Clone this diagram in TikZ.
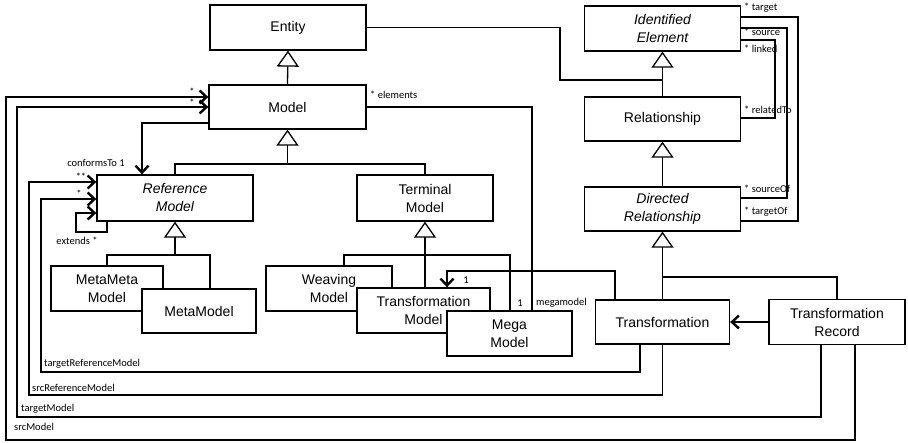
\documentclass[tikz,border=0pt]{standalone}
\usepackage{fontspec}
\setmainfont{Liberation Sans}
\newfontfamily\labfont{Carlito}
\usetikzlibrary{arrows.meta}
\tikzset{
  box/.style={draw, line width=1.3pt, fill=white, inner sep=0pt, align=center,
    font=\fontsize{14}{18}\selectfont},
  conn/.style={line width=1.3pt},
  gen/.style={line width=1.3pt, -{Triangle[length=16pt,width=22pt,fill=white,line width=1.3pt]}},
  assoc/.style={line width=1.3pt, -{Straight Barb[length=7pt,width=13pt,line width=2.4pt]}},
  lab/.style={font=\labfont\fontsize{10.5}{12}\selectfont, inner sep=0pt}
}
\begin{document}
\begin{tikzpicture}[x=1pt,y=-1pt]
\useasboundingbox (0,0) rectangle (908,443);
% boxes
\node[box, minimum width=156pt, minimum height=45pt] (entity) at (288,27.5) {Entity};
\node[box, minimum width=157pt, minimum height=44pt] (model) at (287.5,107) {Model};
\node[box, minimum width=156pt, minimum height=45pt] (ie) at (662.5,28.5) {\itshape Identified\\\itshape Element};
\node[box, minimum width=156pt, minimum height=44pt] (rel) at (662.5,119) {Relationship};
\node[box, minimum width=156pt, minimum height=44pt] (dr) at (662.5,209) {\itshape Directed\\\itshape Relationship};
\node[box, minimum width=156pt, minimum height=46pt] (refm) at (175,198) {\itshape Reference\\\itshape Model};
\node[box, minimum width=136pt, minimum height=46pt] (term) at (425,198) {Terminal\\Model};
\node[box, minimum width=112pt, minimum height=45pt] (mmm) at (107,288.5) {MetaMeta\\Model};
\node[box, minimum width=114pt, minimum height=44pt] (mm) at (199,311) {MetaModel};
\node[box, minimum width=126pt, minimum height=45pt] (weav) at (329,288.5) {Weaving\\Model};
\node[box, minimum width=133pt, minimum height=45pt] (tm) at (423.5,310.5) {Transformation\\Model};
\node[box, minimum width=125pt, minimum height=45pt] (mega) at (509.5,333.5) {Mega\\Model};
\node[box, minimum width=134pt, minimum height=44pt] (tr) at (662.5,322) {Transformation};
\node[box, minimum width=136pt, minimum height=45pt] (trec) at (837,322) {Transformation\\Record};

% coordinates
\coordinate (ebend) at (560,80);
\coordinate (iebus) at (662.5,80);
\coordinate (mbus) at (287.5,164);
\coordinate (rbus) at (175,255);
\coordinate (rb2) at (210,255);
\coordinate (tb1) at (344,255);
\coordinate (tb2) at (510,255);
\coordinate (trbus) at (662.5,277);
\coordinate (cf) at (142,123);
\coordinate (ex1) at (107,232);
\coordinate (ex2) at (76,213);
\coordinate (el) at (532,107);
\coordinate (tt1) at (447,271);
\coordinate (tt2) at (615,271);
\coordinate (s1) at (855,440);
\coordinate (s2) at (6,97);
\coordinate (t1) at (821,417);
\coordinate (t2) at (17,107);
\coordinate (r1) at (662.5,395);
\coordinate (r2) at (29,182);
\coordinate (q1) at (640,372);
\coordinate (q2) at (41,199);
\coordinate (a1) at (798,17);
\coordinate (a2) at (798,221);
\coordinate (b1) at (787,28);
\coordinate (b2) at (787,198);
\coordinate (c1) at (775,40);
\coordinate (c2) at (775,118);

% generalizations
\draw[gen] (model.north) -- (entity.south);
\draw[conn] (entity.east) -- (entity.east -| ebend) -- (ebend) -- (iebus);
\draw[gen] (rel.north) -- (ie.south);
\draw[gen] (dr.north) -- (rel.south);
\draw[gen] (tr.north) -- (dr.south);
\draw[conn] (trec.north) -- (trec.north |- trbus) -- (trbus);
\draw[gen] (mbus) -- (model.south);
\draw[conn] (refm.north) -- (refm.north |- mbus) -- (term.north |- mbus) -- (term.north);
\draw[gen] (rbus) -- (refm.south);
\draw[conn] (mmm.north) -- (mmm.north |- rb2) -- (rb2) -- (rb2 |- mm.north);
\draw[gen] (term.south |- tm.north) -- (term.south);
\draw[conn] (tb1 |- weav.north) -- (tb1) -- (tb2) -- (tb2 |- mega.north);

% associations
\draw[assoc] (cf -| model.west) -- (cf) -- (cf |- refm.north);
\draw[assoc] (ex1 |- refm.south) -- (ex1) -- (ex1 -| ex2) -- (ex2) -- (ex2 -| refm.west);
\draw[conn] (model.east) -- (el) -- (el |- mega.north);
\draw[assoc] (tt2 |- tr.north) -- (tt2) -- (tt1) -- (tt1 |- tm.north);
\draw[assoc] (trec.west) -- (tr.east);
\draw[assoc] (s1 |- trec.south) -- (s1) -- (s1 -| s2) -- (s2) -- (s2 -| model.west);
\draw[assoc] (t1 |- trec.south) -- (t1) -- (t1 -| t2) -- (t2) -- (t2 -| model.west);
\draw[assoc] (r1 |- tr.south) -- (r1) -- (r1 -| r2) -- (r2) -- (r2 -| refm.west);
\draw[assoc] (q1 |- tr.south) -- (q1) -- (q1 -| q2) -- (q2) -- (q2 -| refm.west);
\draw[conn] (a1 -| ie.east) -- (a1) -- (a2) -- (a2 -| dr.east);
\draw[conn] (b1 -| ie.east) -- (b1) -- (b2) -- (b2 -| dr.east);
\draw[conn] (c1 -| ie.east) -- (c1) -- (c2) -- (c2 -| rel.east);

% labels
\node[lab, anchor=west] (l1) at (370,95) {* elements};
\node[lab] (l2) at (192,92) {*};
\node[lab] (l3) at (192,103) {*};
\node[lab] (l4) at (96,163) {conformsTo 1};
\node[lab] (l5) at (81,177) {**};
\node[lab] (l6) at (79,194) {*};
\node[lab] (l7) at (77,241) {extends *};
\node[lab] (l8) at (466,280) {1};
\node[lab] (l9) at (520,303) {1};
\node[lab, anchor=west] (l10) at (536,303) {megamodel};
\node[lab, anchor=west] (l11) at (744,8) {* target};
\node[lab, anchor=west] (l12) at (744,32) {* source};
\node[lab, anchor=west] (l13) at (744,49) {* linked};
\node[lab, anchor=west] (l14) at (744,110) {* relatedTo};
\node[lab, anchor=west] (l15) at (744,189) {* sourceOf};
\node[lab, anchor=west] (l16) at (744,212) {* targetOf};
\node[lab, anchor=west] (l17) at (44,364) {targetReferenceModel};
\node[lab, anchor=west] (l18) at (32,388) {srcReferenceModel};
\node[lab, anchor=west] (l19) at (21,409) {targetModel};
\node[lab, anchor=west] (l20) at (14,427) {srcModel};
\end{tikzpicture}
\end{document}
